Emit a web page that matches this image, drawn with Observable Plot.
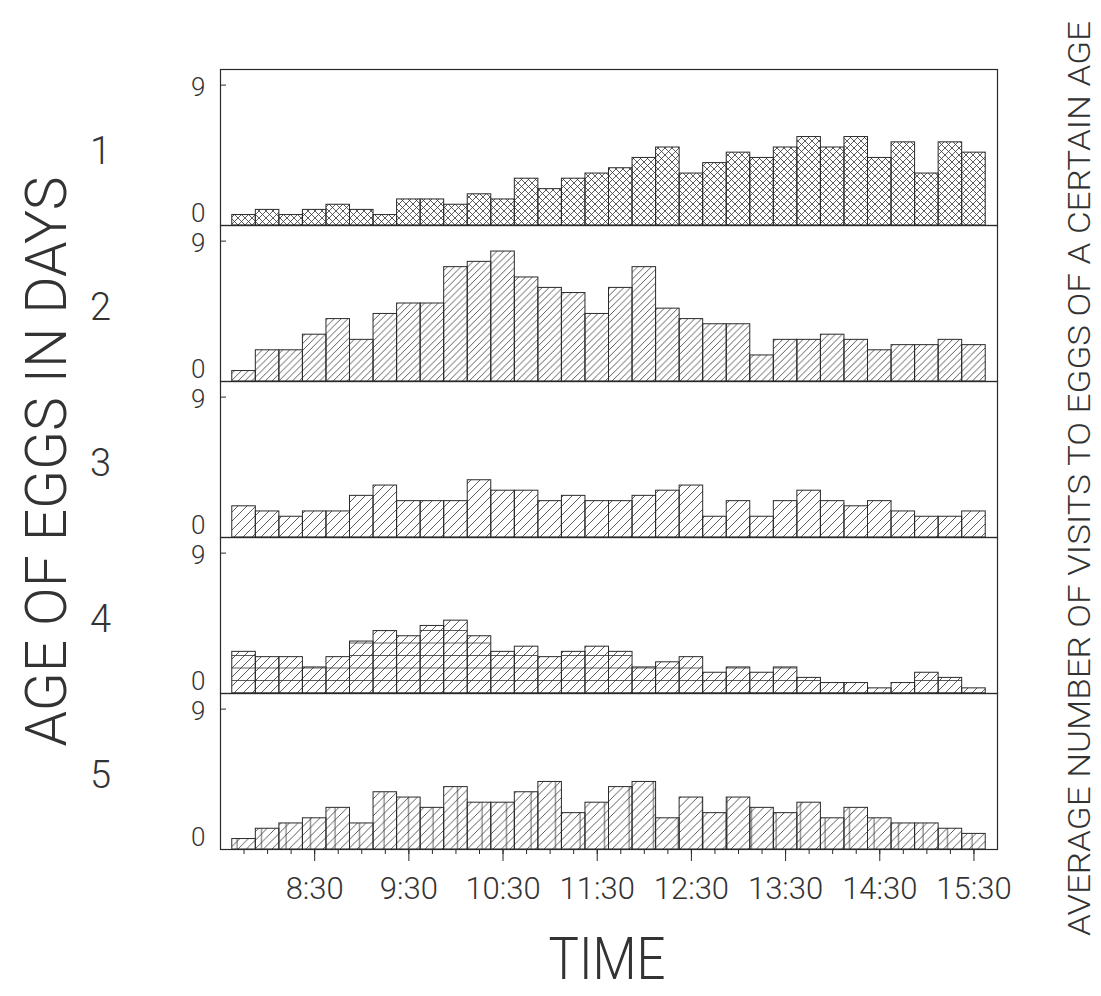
<!DOCTYPE html>
<html><head><meta charset="utf-8">
<script src="https://cdn.jsdelivr.net/npm/d3@7"></script>
<script src="https://cdn.jsdelivr.net/npm/@observablehq/plot@0.6"></script>
<style>
body{margin:0;background:#fff;}
#chart svg{display:block;}
#chart svg text{font-weight:300;}
</style></head><body><div id="chart"></div>
<script>
// 15-minute bins (bar centres)
const times = ["7:45","8:00","8:15","8:30","8:45","9:00","9:15","9:30","9:45","10:00","10:15","10:30","10:45","11:00","11:15","11:30",
               "11:45","12:00","12:15","12:30","12:45","13:00","13:15","13:30","13:45","14:00","14:15","14:30","14:45","15:00","15:15","15:30"];
const ages = [1, 2, 3, 4, 5];
const age1 = [0.67,1.0,0.67,1.0,1.33,1.0,0.67,1.67,1.67,1.33,2.0,1.67,3.0,2.33,3.0,3.33,3.67,4.33,5.0,3.33,4.0,4.67,4.33,5.0,5.67,5.0,5.67,4.33,5.33,3.33,5.33,4.67];
const age2 = [0.67,2.0,2.0,3.0,4.0,2.67,4.33,5.0,5.0,7.33,7.67,8.33,6.67,6.0,5.67,4.33,6.0,7.33,4.67,4.0,3.67,3.67,1.67,2.67,2.67,3.0,2.67,2.0,2.33,2.33,2.67,2.33];
const age3 = [2.0,1.67,1.33,1.67,1.67,2.67,3.33,2.33,2.33,2.33,3.67,3.0,3.0,2.33,2.67,2.33,2.33,2.67,3.0,3.33,1.33,2.33,1.33,2.33,3.0,2.33,2.0,2.33,1.67,1.33,1.33,1.67];
const age4 = [2.67,2.33,2.33,1.67,2.33,3.33,4.0,3.67,4.33,4.67,3.67,2.67,3.0,2.33,2.67,3.0,2.67,1.67,2.0,2.33,1.33,1.67,1.33,1.67,1.0,0.67,0.67,0.33,0.67,1.33,1.0,0.33];
const age5 = [0.67,1.33,1.67,2.0,2.67,1.67,3.67,3.33,2.67,4.0,3.0,3.0,3.67,4.33,2.33,3.0,4.0,4.33,2.0,3.33,2.33,3.33,2.67,2.33,3.0,2.0,2.67,2.0,1.67,1.67,1.33,1.0];
const xTickLabels = ["8:30","9:30","10:30","11:30","12:30","13:30","14:30","15:30"];
const yTicks = [0, 9];
const leftTitle = "AGE OF EGGS IN DAYS";
const rightTitle = "AVERAGE NUMBER OF VISITS TO EGGS OF A CERTAIN AGE";
const xTitle = "TIME";

const toHours = s => { const [h, m] = s.split(":").map(Number); return h + m / 60; };
const fmt = d => { const h = Math.floor(d + 1e-9); const m = Math.round((d - h) * 60); return `${h}:${String(m).padStart(2, "0")}`; };
const binH = 0.25; // 15 minutes
const series = [age1, age2, age3, age4, age5];
const rows = [];
series.forEach((vals, k) => vals.forEach((v, i) => rows.push({age: ages[k], t: toHours(times[i]), v})));
const tickRows = [];
ages.forEach(a => yTicks.forEach(v => tickRows.push({age: a, v})));
const tVals = times.map(toHours);
const xDomain = [tVals[0] - binH, tVals[tVals.length - 1] + binH];

const INK = "#2a2a2a";
const chart = Plot.plot({
  width: 1101, height: 996,
  marginLeft: 220, marginRight: 104, marginTop: 67, marginBottom: 145,
  style: {fontFamily: "Roboto, 'Liberation Sans', Arial, sans-serif", color: "#333", background: "white"},
  x: {domain: xDomain},
  y: {domain: [0, 10]},
  fy: {domain: ages, padding: 0, axis: null},
  color: {type: "identity"},
  marks: [
    Plot.rect(rows, {fy: "age", x1: d => d.t - binH / 2, x2: d => d.t + binH / 2, y1: 0, y2: "v",
      fill: d => `url(#hatch${d.age})`}),
    Plot.rect(rows.filter(d => d.age >= 4), {fy: "age", x1: d => d.t - binH / 2, x2: d => d.t + binH / 2, y1: 0, y2: "v",
      fill: d => `url(#extra${d.age})`}),
    Plot.rect(rows, {fy: "age", x1: d => d.t - binH / 2, x2: d => d.t + binH / 2, y1: 0, y2: "v",
      fill: "none", stroke: INK, strokeWidth: 1}),
    Plot.frame({stroke: INK, strokeWidth: 1.2}),
    Plot.axisY({ticks: [yTicks[1]], tickSize: -6, fill: "none", stroke: INK, label: null}),
    Plot.text(tickRows.filter(d => d.v > 0), {fy: "age", y: "v", text: d => String(d.v), frameAnchor: "left", textAnchor: "end", lineAnchor: "middle", dx: -15, dy: 3, fontSize: 26}),
    Plot.text(tickRows.filter(d => d.v === 0), {fy: "age", y: "v", text: d => String(d.v), frameAnchor: "left", textAnchor: "end", lineAnchor: "middle", dx: -15, dy: -12, fontSize: 26}),
    Plot.axisX({ticks: xTickLabels.map(toHours), tickSize: 12, tickPadding: 15, fontSize: 31, tickFormat: fmt, label: null, stroke: INK}),
    Plot.axisX({ticks: tVals, tickSize: 5, fill: "none", label: null, stroke: INK}),
    Plot.text(ages, {fy: d => d, text: d => String(d), frameAnchor: "left", textAnchor: "middle", lineAnchor: "middle", dx: -120, dy: 4, fontSize: 38}),
    Plot.text([leftTitle], {fy: () => 3, text: d => d, frameAnchor: "left", textAnchor: "middle", lineAnchor: "middle", dx: -173, dy: 2, rotate: -90, fontSize: 58}),
    Plot.text([rightTitle], {fy: () => 3, text: d => d, frameAnchor: "right", textAnchor: "middle", lineAnchor: "middle", dx: 83, dy: 19, rotate: -90, fontSize: 31}),
    Plot.text([xTitle], {fy: () => 5, text: d => d, frameAnchor: "bottom", textAnchor: "middle", lineAnchor: "middle", dx: -2, dy: 110, fontSize: 60})
  ]
});
document.getElementById("chart").append(chart);
const svgNode = chart.tagName.toLowerCase() === "svg" ? chart : chart.querySelector("svg");
const svg = d3.select(svgNode);
const ys = chart.scale("y");
const y0 = ys.apply ? ys.apply(0) : ys.range[0];
const defs = svg.insert("defs", ":first-child");
function pattern(id, w, h, d, x = 0, y = 0, sw = 0.8) {
  const p = defs.append("pattern").attr("id", id).attr("patternUnits", "userSpaceOnUse")
    .attr("width", w).attr("height", h).attr("x", x).attr("y", y);
  p.append("path").attr("d", d).attr("stroke", "#333").attr("stroke-width", sw).attr("fill", "none");
}
const fwd = s => `M0,${s}L${s},0M${-s/2},${s/2}L${s/2},${-s/2}M${s/2},${s*1.5}L${s*1.5},${s/2}`;
const back = s => `M0,0L${s},${s}M${-s/2},${s/2}L${s/2},${s*1.5}M${s/2},${-s/2}L${s*1.5},${s/2}`;
pattern("hatch1", 7, 7, fwd(7) + back(7), 0, y0);
pattern("hatch2", 6.8, 6.8, fwd(6.8), 0, y0);
pattern("hatch3", 9, 9, fwd(9), 0, y0);
pattern("hatch4", 9, 9, fwd(9), 0, y0);
pattern("hatch5", 8.5, 8.5, fwd(8.5), 0, y0);
pattern("extra4", 10, 12.5, "M0,6.25H10", 0, y0 - 6.25);
pattern("extra5", 24.5, 10, "M12,0V10", 225, 0);

svg.selectAll("text").each(function() {
  const t = this.textContent;
  const el = d3.select(this);
  if (t === leftTitle) el.attr("textLength", 570).attr("lengthAdjust", "spacingAndGlyphs");
  if (t === rightTitle) el.attr("textLength", 915).attr("lengthAdjust", "spacingAndGlyphs");
  if (t === xTitle) el.attr("textLength", 117).attr("lengthAdjust", "spacingAndGlyphs");
});
</script></body></html>
